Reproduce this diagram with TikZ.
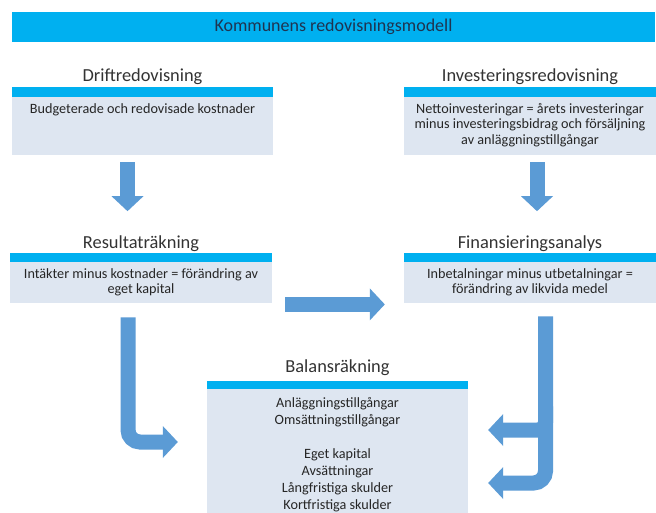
\documentclass[tikz,border=0pt]{standalone}
\usepackage{fontspec}
\setmainfont{Carlito}
\usetikzlibrary{positioning,arrows.meta}

\definecolor{bannerblue}{HTML}{00B0F0}
\definecolor{boxfill}{HTML}{DEE6F1}
\definecolor{arrowblue}{HTML}{5B9BD5}
\definecolor{navytext}{HTML}{1F3450}
\definecolor{titlegray}{HTML}{333333}
\definecolor{bodygray}{HTML}{262626}

\tikzset{
	banner/.style={rectangle, fill=bannerblue, inner sep=0pt, minimum width=643pt, minimum height=30pt, text=navytext, font=\fontsize{18}{20}\selectfont},
	panelbox/.style={rectangle, fill=boxfill, inner sep=0pt, anchor=north},
	paneltitle/.style={inner sep=0pt, text=titlegray, font=\fontsize{18.4}{20}\selectfont},
	paneltext/.style={inner sep=0pt, align=center, text=bodygray, font=\fontsize{14.2}{15.5}\selectfont},
	stripe/.style={fill=bannerblue},
	blockarrow/.style={draw=arrowblue, line width=15pt, -{Triangle[width=32pt,length=15pt,line width=0pt,fill=arrowblue]}},
}

\begin{document}
\begin{tikzpicture}[x=1pt,y=-1pt]
			\useasboundingbox (0,0) rectangle (656,512);
			\fill[white] (0,0) rectangle (656,512);
			\clip (0,0) rectangle (656,512);
			
			% Banner
			\node[banner] (banner) at (333.5,27) {Kommunens redovisningsmodell};
			
			% Drift
			\node[panelbox, minimum width=261pt, minimum height=58pt] (drift) at (142.5,97) {};
			\fill[stripe] (drift.north west) rectangle ([yshift=10pt]drift.north east);
			\node[paneltitle, above=12pt of drift.north] (drifttitle) {Driftredovisning};
			\node[paneltext, below=6pt of drift.north] (drifttext) {Budgeterade och redovisade kostnader};
			
			% Investering
			\node[panelbox, minimum width=252pt, minimum height=58pt] (invest) at (530,97) {};
			\fill[stripe] (invest.north west) rectangle ([yshift=10pt]invest.north east);
			\node[paneltitle, above=12pt of invest.north] (investtitle) {Investeringsredovisning};
			\node[paneltext, below=6pt of invest.north] (investtext) {Nettoinvesteringar = årets investeringar\\minus investeringsbidrag och försäljning\\av anläggningstillgångar};
			
			% Resultat
			\node[panelbox, minimum width=262pt, minimum height=41pt] (result) at (141,262) {};
			\fill[stripe] (result.north west) rectangle ([yshift=9pt]result.north east);
			\node[paneltitle, above=10.5pt of result.north] (resulttitle) {Resultaträkning};
			\node[paneltext, below=6pt of result.north] (resulttext) {Intäkter minus kostnader = förändring av\\eget kapital};
			
			% Finansiering
			\node[panelbox, minimum width=252pt, minimum height=41pt] (finans) at (530,262) {};
			\fill[stripe] (finans.north west) rectangle ([yshift=9pt]finans.north east);
			\node[paneltitle, above=10.5pt of finans.north] (finanstitle) {Finansieringsanalys};
			\node[paneltext, below=6pt of finans.north] (finanstext) {Inbetalningar minus utbetalningar =\\förändring av likvida medel};
			
			% Balans
			\node[panelbox, minimum width=261pt, minimum height=140pt] (balans) at (337.5,389) {};
			\fill[stripe] (balans.north west) rectangle ([yshift=8.5pt]balans.north east);
			\node[paneltitle, above=13pt of balans.north] (balanstitle) {Balansräkning};
			\node[paneltext, font=\fontsize{14.2}{17}\selectfont, below=8pt of balans.north] (balanstext) {Anläggningstillgångar\\Omsättningstillgångar\\[17pt]Eget kapital\\Avsättningar\\Långfristiga skulder\\Kortfristiga skulder};
			
			% Drift to Resultat
			\coordinate (driftout) at ([xshift=-15pt,yshift=-7pt]drift.south);
			\draw[blockarrow, shorten >=24pt] (driftout) -- (driftout |- resulttitle.north);
			
			% Investering to Finansiering
			\coordinate (investout) at ([xshift=7pt,yshift=-7pt]invest.south);
			\draw[blockarrow, shorten >=24pt] (investout) -- (investout |- finanstitle.north);
			
			% Resultat to Finansiering
			\coordinate (resultout) at ([xshift=13pt,yshift=-1pt]result.south east);
			\draw[blockarrow, shorten >=19pt] (resultout) -- (resultout -| finans.west);
			
			% Resultat to Balans
			\coordinate (resultdown) at ([xshift=-13pt,yshift=-14pt]result.south);
			\draw[blockarrow, rounded corners=12pt, shorten >=29pt] (resultdown) |- ([yshift=-53pt]balans.north west);
			
			% Finansiering to Balans
			\coordinate (finansdown) at ([xshift=15.5pt,yshift=-13pt]finans.south);
			\draw[blockarrow, rounded corners=12pt, shorten >=20pt] (finansdown) |- ([yshift=-94pt]balans.north east);
			\draw[blockarrow, rounded corners=8pt, shorten >=20pt] ([yshift=-90pt]finansdown) |- ([yshift=-41pt]balans.north east);
			
\end{tikzpicture}
\end{document}
